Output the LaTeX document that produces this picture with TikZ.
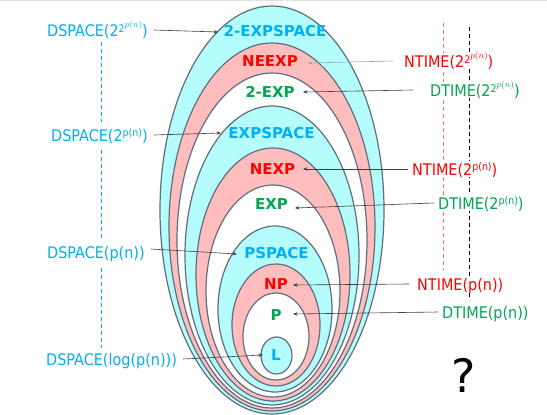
\documentclass[tikz,border=0pt]{standalone}
\usepackage{fontspec}
\setmainfont{DejaVu Sans}
\newfontfamily\sidefont{DejaVu Sans}[FakeStretch=0.9]
\usetikzlibrary{arrows.meta}
\definecolor{cyfill}{HTML}{B5FCFC}
\definecolor{pkfill}{HTML}{FFBDBD}
\definecolor{edgec}{HTML}{5F6E7D}
\definecolor{lblue}{HTML}{00B0F0}
\definecolor{pred}{HTML}{FF0000}
\definecolor{pgreen}{HTML}{00A650}
\definecolor{arrgray}{HTML}{404040}
\definecolor{arrblue}{HTML}{8EA9C1}
\definecolor{dred}{HTML}{F07070}
\newcommand{\supone}[1]{\raisebox{4.5pt}{\fontsize{10.5}{10.5}\selectfont #1}}
\newcommand{\suptwo}{\raisebox{4pt}{\fontsize{10.5}{10.5}\selectfont 2\raisebox{4.5pt}{\fontsize{9.5}{9.5}\selectfont$p(n)$}}}
\begin{document}
\begin{tikzpicture}[x=1pt,y=-1pt,
  region/.style={draw=edgec,line width=1.2pt},
  cls/.style={font=\bfseries\fontsize{15}{15}\selectfont, inner sep=0pt, anchor=base},
  side/.style={font=\sidefont\fontsize{16}{16}\selectfont, inner sep=1pt, text height=13pt, text depth=1pt, fill=white},
  arr/.style={draw=arrgray, line width=0.6pt, -{Stealth[length=4.5pt,width=3.5pt]}},
  vdash/.style={dash pattern=on 4pt off 3pt, line width=0.9pt}]
\useasboundingbox (0,0) rectangle (547,415);
\fill[white] (0,0) rectangle (547,415);
\draw[gray!25, line width=1.2pt] (0,0.6) -- (547,0.6);
% nested regions
\filldraw[region, fill=cyfill] (272,210) ellipse [x radius=112pt, y radius=204pt];
\filldraw[region, fill=pkfill] (272,227) ellipse [x radius=103pt, y radius=184pt];
\filldraw[region, fill=white] (272,240.5) ellipse [x radius=95pt, y radius=167.5pt];
\filldraw[region, fill=cyfill] (272,255.5) ellipse [x radius=87pt, y radius=149.5pt];
\filldraw[region, fill=pkfill] (273,274.5) ellipse [x radius=77pt, y radius=126.5pt];
\filldraw[region, fill=white] (273,291) ellipse [x radius=67pt, y radius=106pt];
\filldraw[region, fill=cyfill] (275,309) ellipse [x radius=57pt, y radius=83pt];
\filldraw[region, fill=pkfill] (276,325) ellipse [x radius=44pt, y radius=61pt];
\filldraw[region, fill=white] (276,336.5) ellipse [x radius=33pt, y radius=43.5pt];
\filldraw[region, fill=cyfill] (276.5,355.5) ellipse [x radius=15.5pt, y radius=18.5pt];
% class labels
\node[cls, text=lblue] (c2es) at (275,37) {2-EXPSPACE};
\node[cls, text=pred] (cneexp) at (270,66) {NEEXP};
\node[cls, text=pgreen] (c2e) at (270,97) {2-EXP};
\node[cls, text=lblue] (ces) at (271.5,138) {EXPSPACE};
\node[cls, text=pred] (cnexp) at (272.5,174) {NEXP};
\node[cls, text=pgreen] (cexp) at (271.5,209) {EXP};
\node[cls, text=lblue] (cps) at (276.5,258) {PSPACE};
\node[cls, text=pred] (cnp) at (276,289) {NP};
\node[cls, text=pgreen] (cp) at (276,320) {P};
\node[cls, text=lblue] (cl) at (276,360) {L};
% dashed guide lines
\draw[vdash, lblue] (101,42) -- (101,122);
\draw[vdash, lblue] (101,150) -- (101,240);
\draw[vdash, lblue] (101,268) -- (101,348);
\draw[vdash, dred] (443,23) -- (443,270);
\draw[vdash, black] (469,27) -- (469,300);
% left labels
\node[side, text=lblue, anchor=west] (ds1) at (46,30) {DSPACE(2\suptwo)};
\node[side, text=lblue, anchor=west] (ds2) at (50,135) {DSPACE(2\supone{p(n)})};
\node[side, text=lblue, anchor=west] (ds3) at (46,252) {DSPACE(p(n))};
\node[side, text=lblue, anchor=west] (ds4) at (45,359) {DSPACE(log(p(n)))};
% right labels
\node[side, text=pred, anchor=west] (nt1) at (403,61) {NTIME(2\suptwo)};
\node[side, text=pgreen, anchor=west] (dt1) at (429,90) {DTIME(2\suptwo)};
\node[side, text=pred, anchor=west] (nt2) at (411,169) {NTIME(2\supone{p(n)})};
\node[side, text=pgreen, anchor=west] (dt2) at (437,203) {DTIME(2\supone{p(n)})};
\node[side, text=pred, anchor=west] (nt3) at (416,284) {NTIME(p(n))};
\node[side, text=pgreen, anchor=west] (dt3) at (441,312) {DTIME(p(n))};
\node[font=\fontsize{46}{46}\selectfont, anchor=base, inner sep=0pt] (q) at (464,392) {?};
% arrow targets
\coordinate (k1) at (218,32);
\coordinate (k2) at (221,133);
\coordinate (k3) at (237,254);
\coordinate (k4) at (263,355);
\coordinate (k5) at (308,63);
\coordinate (k6) at (303,92);
\coordinate (k7) at (303,169);
\coordinate (k8) at (295,208);
\coordinate (k9) at (293,285);
\coordinate (k10) at (293,314);
\draw[arr] ([xshift=5pt]ds1.east) -- (k1);
\draw[arr] ([xshift=5pt]ds2.east) -- (k2);
\draw[arr] ([xshift=5pt,yshift=3pt]ds3.east) -- (k3);
\draw[arr] ([xshift=5pt]ds4.east) -- (k4);
\draw[arr, draw=arrblue] ([xshift=-10pt]nt1.west) -- (k5);
\draw[arr] ([xshift=-16pt]dt1.west) -- (k6);
\draw[arr] ([xshift=-3pt]nt2.west) -- (k7);
\draw[arr] ([xshift=-3pt]dt2.west) -- (k8);
\draw[arr] ([xshift=-7pt]nt3.west) -- (k9);
\draw[arr] ([xshift=-3pt]dt3.west) -- (k10);
\end{tikzpicture}
\end{document}
